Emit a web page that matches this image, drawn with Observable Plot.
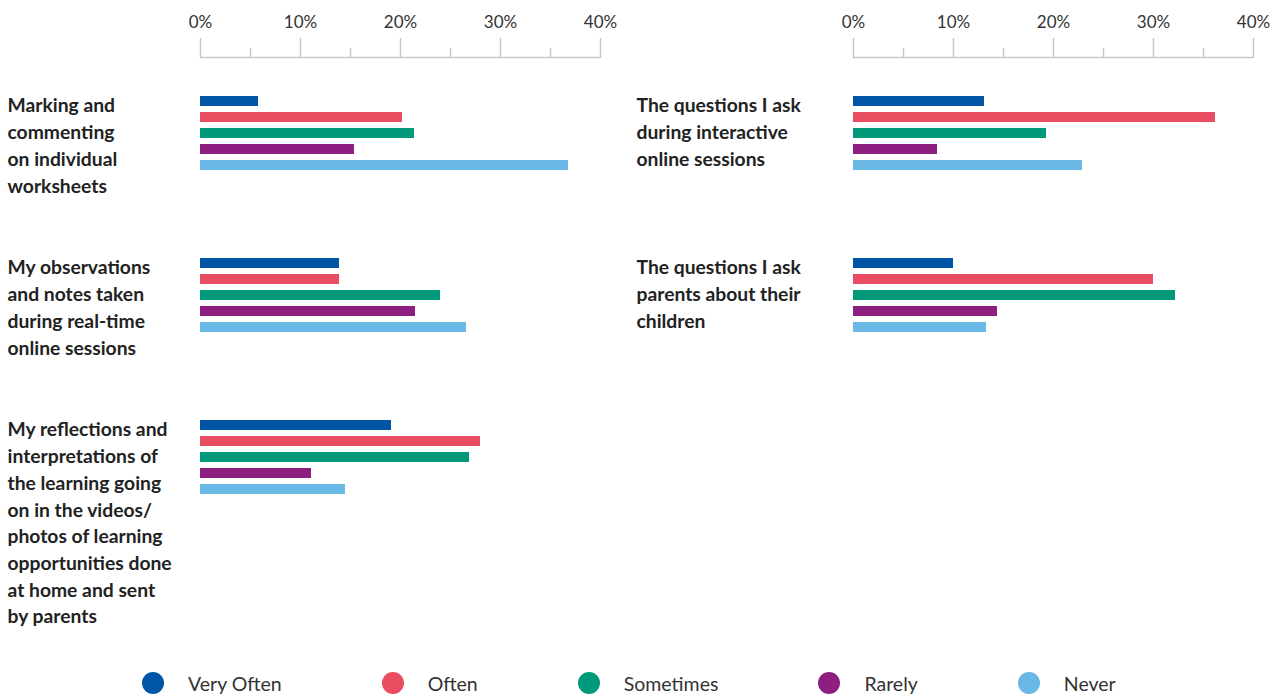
<!DOCTYPE html>
<html>
<head>
<meta charset="utf-8">
<script src="https://cdn.jsdelivr.net/npm/d3@7"></script>
<script src="https://cdn.jsdelivr.net/npm/@observablehq/plot@0.6"></script>
<style>
  html, body { margin: 0; padding: 0; background: #fff; }
  #wrap { position: relative; width: 1280px; height: 697px; font-family: Lato, "Open Sans", sans-serif; }
  #legend { position: absolute; left: 142px; top: 672px; height: 22px; display: flex; align-items: center; }
  .item { display: flex; align-items: center; margin-right: 100px; }
  .sw { width: 22px; height: 22px; border-radius: 50%; margin-right: 24px; }
  .lt { font-size: 19.5px; color: #333; }
</style>
</head>
<body>
<div id="wrap"></div>
<script>
// ---- data ----
const categories = ["Very Often", "Often", "Sometimes", "Rarely", "Never"];
const colors = ["#0055a5", "#ea4c61", "#009a7a", "#8e1f80", "#69b8e6"];

const panelLabels = [
  "Marking and\ncommenting\non individual\nworksheets",
  "My observations\nand notes taken\nduring real-time\nonline sessions",
  "My reflections and\ninterpretations of\nthe learning going\non in the videos/\nphotos of learning\nopportunities done\nat home and sent\nby parents",
  "The questions I ask\nduring interactive\nonline sessions",
  "The questions I ask\nparents about their\nchildren"
];
const panelColumns = ["L", "L", "L", "R", "R"];
const panelRows = [0, 1, 2, 0, 1];

// values per panel, in category order (percent)
const markingValues      = [5.8, 20.2, 21.4, 15.4, 36.8];
const observationValues  = [13.9, 13.9, 24.0, 21.5, 26.6];
const reflectionValues   = [19.1, 28.0, 26.9, 11.1, 14.5];
const questionsOnline    = [13.1, 36.2, 19.3, 8.4, 22.9];
const questionsParents   = [10.0, 30.0, 32.2, 14.4, 13.3];
const panelValues = [markingValues, observationValues, reflectionValues, questionsOnline, questionsParents];

const majorTicks = [0, 10, 20, 30, 40];
const minorTicks = [5, 15, 25, 35];

// ---- build tables ----
const bars = [];
panelValues.forEach((vals, p) => {
  vals.forEach((v, i) => bars.push({col: panelColumns[p], row: panelRows[p], cat: categories[i], value: v}));
});
const labels = panelLabels.map((t, p) => ({col: panelColumns[p], row: panelRows[p], label: t}));
const axisRows = [{col: "L", row: 0}, {col: "R", row: 0}];

const axisGrey = "#c8c8c8";
const fontFamily = "Lato, 'Open Sans', sans-serif";
const labelSize = 19.3;

const chart = Plot.plot({
  width: 1280,
  height: 650,
  marginTop: 93,
  marginBottom: 153,
  marginLeft: 200,
  marginRight: 27,
  style: {fontFamily, background: "white"},
  fx: {domain: ["L", "R"], paddingInner: 253 / 653, paddingOuter: 0, axis: null},
  fy: {domain: [0, 1, 2], paddingInner: 82 / 162, paddingOuter: 0, axis: null},
  x: {domain: [0, 40], axis: null},
  y: {domain: categories, paddingInner: 0.4, paddingOuter: 0.2, axis: null},
  color: {domain: categories, range: colors},
  marks: [
    Plot.barX(bars, {fx: "col", fy: "row", y: "cat", x: "value", fill: "cat"}),
    Plot.text(labels.filter(d => d.col === "L"), {
      fx: "col", fy: "row", text: "label", frameAnchor: "top-left", textAnchor: "start",
      lineAnchor: "top", dx: -193, dy: 0, fontSize: labelSize, fontWeight: 700, lineHeight: 26.7 / labelSize, fill: "#222"
    }),
    Plot.text(labels.filter(d => d.col === "R"), {
      fx: "col", fy: "row", text: "label", frameAnchor: "top-left", textAnchor: "start",
      lineAnchor: "top", dx: -217, dy: 0, fontSize: labelSize, fontWeight: 700, lineHeight: 26.7 / labelSize, fill: "#222"
    }),
    Plot.ruleY(axisRows, {fx: "col", fy: "row", y: () => categories[0], x1: 0, x2: 40, dy: -44, stroke: axisGrey, strokeWidth: 1.5}),
    Plot.axisX(majorTicks, {anchor: "top", label: null, tickSize: 20, tickPadding: 10, tickFormat: d => `${d}%`, dy: -36,
      stroke: axisGrey, strokeWidth: 1.5, fill: "#333", fontSize: 17}),
    Plot.axisX(minorTicks, {anchor: "top", label: null, tickSize: 10, text: null, dy: -36, stroke: axisGrey, strokeWidth: 1.5})
  ]
});

const wrap = document.getElementById("wrap");
wrap.appendChild(chart);

const legend = document.createElement("div");
legend.id = "legend";
categories.forEach((c, i) => {
  const it = document.createElement("div");
  it.className = "item";
  const sw = document.createElement("div");
  sw.className = "sw";
  sw.style.background = colors[i];
  const lt = document.createElement("span");
  lt.className = "lt";
  lt.textContent = c;
  it.appendChild(sw);
  it.appendChild(lt);
  legend.appendChild(it);
});
wrap.appendChild(legend);
</script>
</body>
</html>
